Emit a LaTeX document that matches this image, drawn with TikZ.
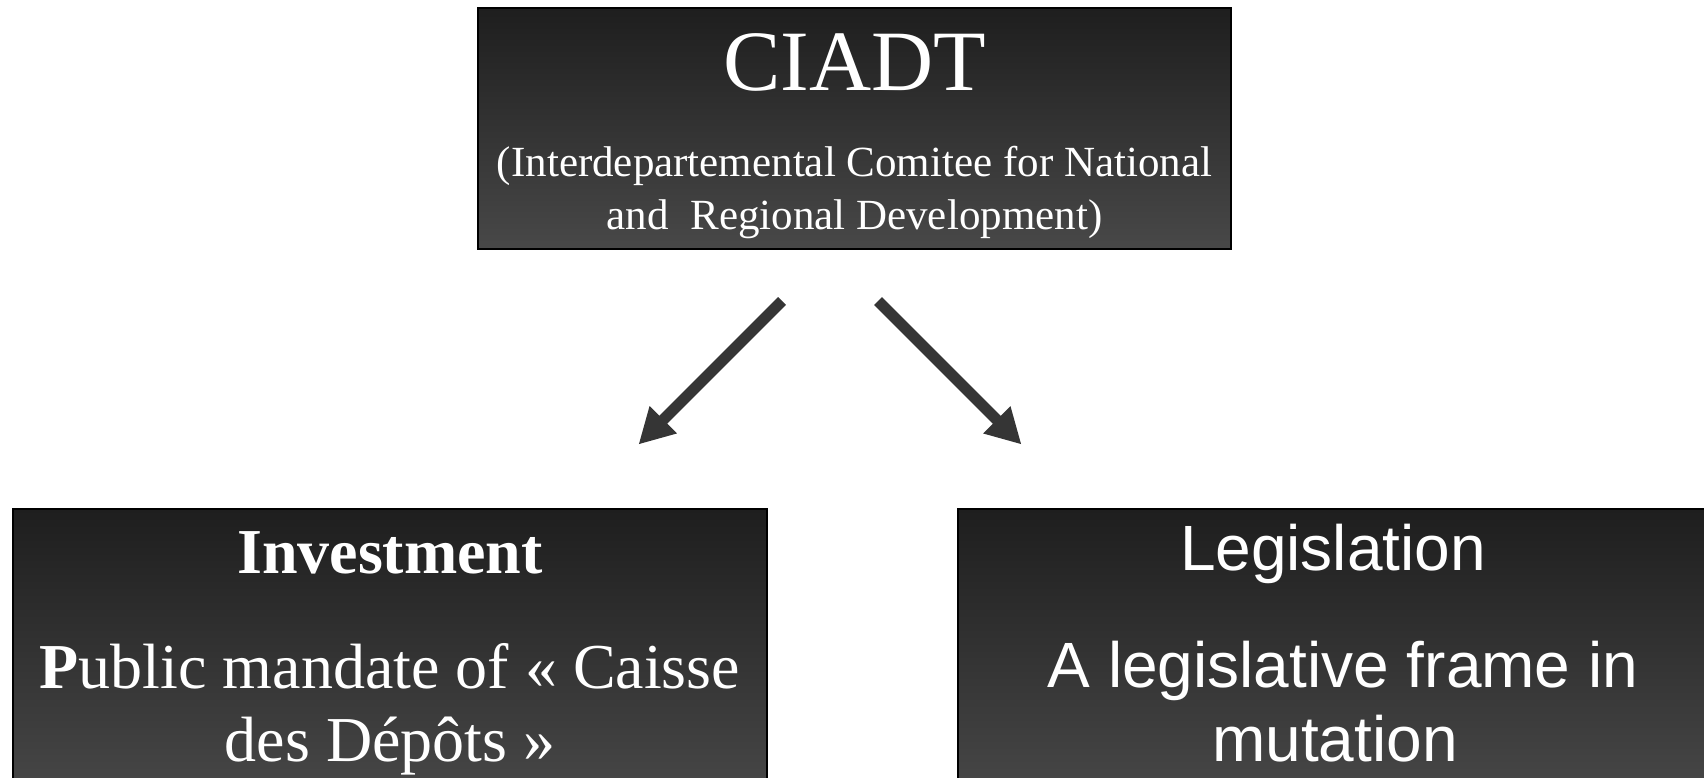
\documentclass[tikz,border=0pt]{standalone}
\usepackage{fontspec}
\setmainfont{Liberation Serif}
\newfontfamily\arialfont{Liberation Sans}
\usetikzlibrary{arrows.meta}
\definecolor{boxtop}{HTML}{1E1E1E}
\definecolor{boxbot}{HTML}{484848}
\definecolor{arrowgray}{HTML}{353535}
\begin{document}
\begin{tikzpicture}[x=1pt,y=-1pt,
  panel/.style={draw=black, line width=1.5pt, top color=boxtop, bottom color=boxbot, rectangle, inner sep=0pt},
  txt/.style={text=white, inner sep=0pt, anchor=base},
  bigarrow/.style={draw=arrowgray, line width=11pt, -{Triangle[length=35pt,width=36pt]}}]
\useasboundingbox (0,0) rectangle (1704,778);
\clip (0,0) rectangle (1704,778);
% boxes
\node[panel, minimum width=753pt, minimum height=241pt] (top) at (854.5,128.5) {};
\node[panel, minimum width=754pt, minimum height=291pt] (left) at (390,654.5) {};
\node[panel, minimum width=750pt, minimum height=291pt] (right) at (1333,654.5) {};
% top texts
\node[txt, font=\fontsize{86}{86}\selectfont] (ciadt) at (854.5,91) {CIADT};
\node[txt, font=\fontsize{43}{43}\selectfont] (sub1) at (854.5,177) {(Interdepartemental Comitee for National};
\node[txt, font=\fontsize{43}{43}\selectfont] (sub2) at (854.5,229) {and~~Regional Development)};
% left texts
\node[txt, font=\fontsize{64}{64}\selectfont\bfseries] (inv) at (390,573) {Investment};
\node[txt, font=\fontsize{64}{64}\selectfont] (pub) at (390,688) {\textbf{P}ublic mandate of « Caisse};
\node[txt, font=\fontsize{64}{64}\selectfont] (des) at (390,761) {des Dépôts »};
% right texts
\node[txt, font=\arialfont\fontsize{64}{64}\selectfont] (leg) at (1333,570) {Legislation};
\node[txt, font=\arialfont\fontsize{64}{64}\selectfont] (frame) at (1343,687) {A legislative frame in};
\node[txt, font=\arialfont\fontsize{64}{64}\selectfont] (mut) at (1335,761) {mutation};
% arrows
\coordinate (a1s) at (782,301);
\coordinate (a1e) at (638.5,444.5);
\coordinate (a2s) at (878,301);
\coordinate (a2e) at (1021.5,444.5);
\draw[bigarrow] (a1s) -- (a1e);
\draw[bigarrow] (a2s) -- (a2e);
\end{tikzpicture}
\end{document}
